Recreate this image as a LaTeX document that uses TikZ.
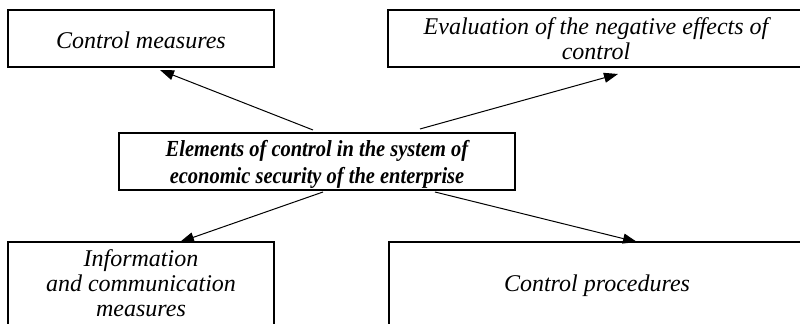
\documentclass[tikz,border=0pt]{standalone}
\usepackage{fontspec}
\setmainfont{Liberation Serif}
\usetikzlibrary{arrows.meta,calc}

\begin{document}
\begin{tikzpicture}[
    x=0.5pt, y=-0.5pt,
    frame/.style={draw, line width=1pt, inner sep=0pt},
    txt/.style={inner sep=0pt, align=center,
      font=\fontsize{12pt}{12.5pt}\selectfont\itshape},
    maintxt/.style={inner sep=0pt, align=center,
      font=\fontsize{11.5pt}{13.5pt}\selectfont\bfseries\itshape},
    arr/.style={line width=0.5pt, -{Triangle[length=7pt,width=5pt]}}
  ]
  \clip (0,0) rectangle (800,324);

  % frames
  \node[frame, minimum width=133pt, minimum height=28.5pt] (cm) at (141,38.5) {};
  \node[frame, minimum width=208pt, minimum height=28.5pt] (ev) at (596,38.5) {};
  \node[frame, minimum width=198pt, minimum height=28.5pt] (ctr) at (317,161.5) {};
  \node[frame, minimum width=133pt, minimum height=46pt] (ic) at (141,288) {};
  \node[frame, minimum width=208pt, minimum height=46pt] (cp) at (597,288) {};

  % texts
  \node[txt] (cmt) at (141,40.5) {Control measures};
  \node[txt] (evt) at (596,38.5) {Evaluation of the negative effects of\\control};
  \node[maintxt] (ctrt) at (317,164.5)
    {\scalebox{0.89}[1]{Elements of control in the system of}\\
     \scalebox{0.89}[1]{economic security of the enterprise}};
  \node[txt] (ict) at (141,283) {Information\\and communication\\measures};
  \node[txt] (cpt) at (597,286) {Control procedures};

  % connectors
  \draw[arr] ($(ctr.north)+(-4,-2)$) -- ($(cm.south)+(19,2)$);
  \draw[arr] ($(ctr.north)+(103,-3)$) -- ($(ev.south)+(22,6)$);
  \draw[arr] ($(ctr.south)+(6,1)$) -- ($(ic.north)+(39,1)$);
  \draw[arr] ($(ctr.south)+(118,1)$) -- ($(cp.north)+(40,1)$);
\end{tikzpicture}
\end{document}
